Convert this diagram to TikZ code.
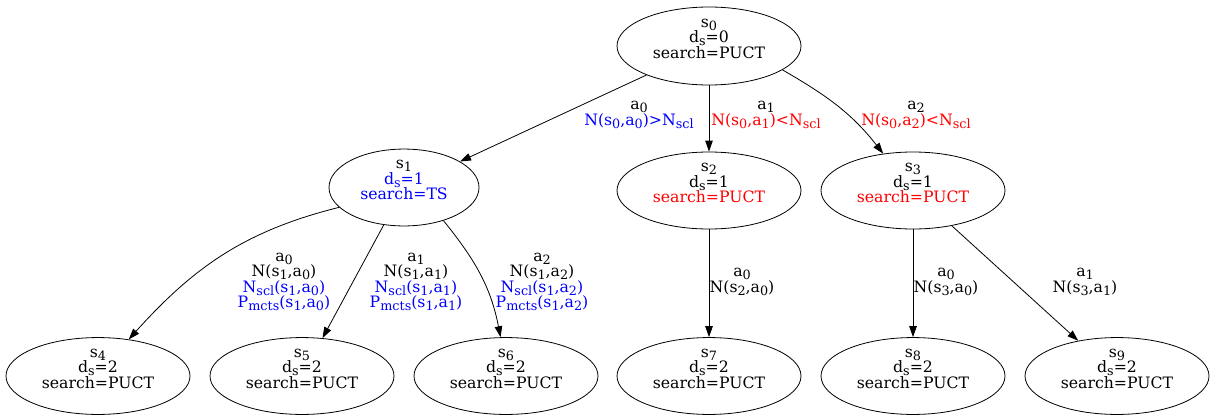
\documentclass[tikz,border=0pt]{standalone}
\usepackage{fontspec}
\setmainfont{DejaVu Serif}
\usetikzlibrary{shapes.geometric,arrows.meta}
\newcommand\mysub[1]{\raisebox{-3.3pt}{\fontsize{12.8}{12.8}\selectfont #1}}
\begin{document}
\begin{tikzpicture}[x=1pt,y=-1pt,
  txt/.style={font={\fontsize{15.7}{15.5}\selectfont\lineskiplimit=-20pt}, align=center, inner sep=0pt},
  st/.style={txt, draw, ellipse, line width=0.8pt, minimum width=184pt, minimum height=77pt, text depth=15pt},
  edge/.style={line width=0.8pt, -{Triangle[length=11pt,width=7.5pt]}},
  lbl/.style={txt}]
\useasboundingbox (0,0) rectangle (1220,415);
\node[st, minimum height=78pt] (s0) at (709,46) {s\mysub{0}\\d\mysub{s}=0\\search=PUCT};
\node[st, minimum width=150pt, minimum height=71pt] (s1) at (404,187.5) {s\mysub{1}\\\textcolor{blue}{d\mysub{s}=1}\\\textcolor{blue}{search=TS}};
\node[st] (s2) at (709,190.5) {s\mysub{2}\\d\mysub{s}=1\\\textcolor{red}{search=PUCT}};
\node[st] (s3) at (913,190.5) {s\mysub{3}\\d\mysub{s}=1\\\textcolor{red}{search=PUCT}};
\node[st, minimum height=76pt] (s4) at (98,376) {s\mysub{4}\\d\mysub{s}=2\\search=PUCT};
\node[st, minimum height=76pt] (s5) at (302,376) {s\mysub{5}\\d\mysub{s}=2\\search=PUCT};
\node[st, minimum height=76pt] (s6) at (506,376) {s\mysub{6}\\d\mysub{s}=2\\search=PUCT};
\node[st, minimum height=76pt] (s7) at (709,376) {s\mysub{7}\\d\mysub{s}=2\\search=PUCT};
\node[st, minimum height=76pt] (s8) at (913,376) {s\mysub{8}\\d\mysub{s}=2\\search=PUCT};
\node[st, minimum height=76pt] (s9) at (1117,376) {s\mysub{9}\\d\mysub{s}=2\\search=PUCT};
% labels
\node[lbl] (l01) at (639,115) {a\mysub{0}\\\textcolor{blue}{N(s\mysub{0},a\mysub{0})>N\mysub{scl}}};
\node[lbl] (l02) at (766,115) {a\mysub{1}\\\textcolor{red}{N(s\mysub{0},a\mysub{1})<N\mysub{scl}}};
\node[lbl] (l03) at (916,115) {a\mysub{2}\\\textcolor{red}{N(s\mysub{0},a\mysub{2})<N\mysub{scl}}};
\node[lbl] (l14) at (284,282) {a\mysub{0}\\N(s\mysub{1},a\mysub{0})\\\textcolor{blue}{N\mysub{scl}(s\mysub{1},a\mysub{0})}\\\textcolor{blue}{P\mysub{mcts}(s\mysub{1},a\mysub{0})}};
\node[lbl] (l15) at (416,282) {a\mysub{1}\\N(s\mysub{1},a\mysub{1})\\\textcolor{blue}{N\mysub{scl}(s\mysub{1},a\mysub{1})}\\\textcolor{blue}{P\mysub{mcts}(s\mysub{1},a\mysub{1})}};
\node[lbl] (l16) at (542,282) {a\mysub{2}\\N(s\mysub{1},a\mysub{2})\\\textcolor{blue}{N\mysub{scl}(s\mysub{1},a\mysub{2})}\\\textcolor{blue}{P\mysub{mcts}(s\mysub{1},a\mysub{2})}};
\node[lbl] (l27) at (742,282) {a\mysub{0}\\N(s\mysub{2},a\mysub{0})};
\node[lbl] (l38) at (946,282) {a\mysub{0}\\N(s\mysub{3},a\mysub{0})};
\node[lbl] (l39) at (1085,282) {a\mysub{1}\\N(s\mysub{3},a\mysub{1})};
% edges
\draw[edge] (s0) -- (s1);
\draw[edge] (s0) -- (s2);
\draw[edge] (s0.-18) to[out=-30,in=128] (s3.129);
\draw[edge] (s1.197) to[out=194,in=48] (s4.50);
\draw[edge] (s1) -- (s5);
\draw[edge] (s1.-40) to[out=-51,in=101] (s6.98);
\draw[edge] (s2) -- (s7);
\draw[edge] (s3) -- (s8);
\draw[edge] (s3) -- (s9);
\end{tikzpicture}
\end{document}
